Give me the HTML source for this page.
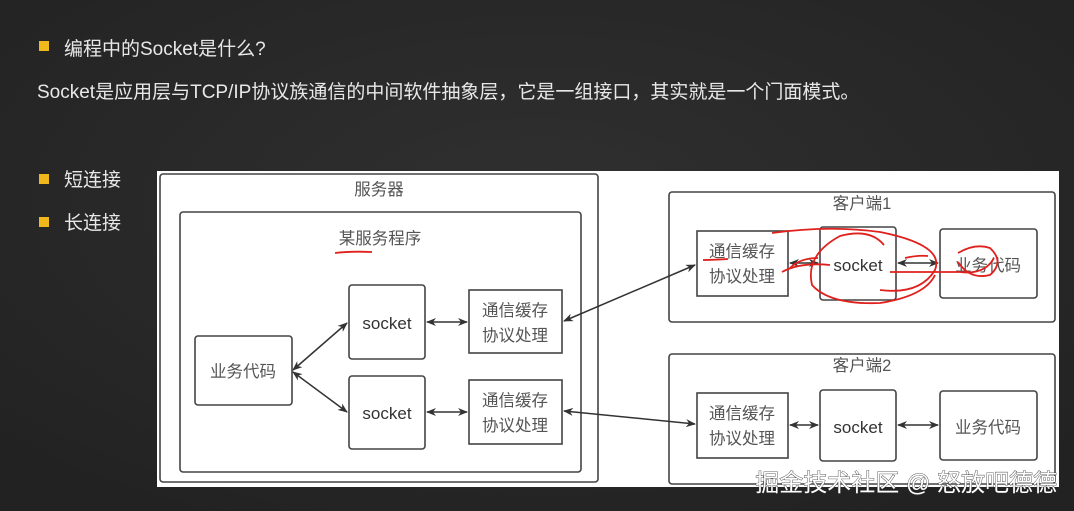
<!DOCTYPE html>
<html><head><meta charset="utf-8"><style>
html,body{margin:0;padding:0;width:1074px;height:511px;overflow:hidden;background:#2a2a2a;}
svg{display:block}
text{font-family:"Liberation Sans","Noto Sans CJK SC",sans-serif;}
</style></head><body>
<svg width="1074" height="511" viewBox="0 0 1074 511" xmlns="http://www.w3.org/2000/svg">
<defs>
<marker id="a" markerWidth="10" markerHeight="8" refX="9" refY="4" orient="auto-start-reverse" markerUnits="userSpaceOnUse"><path d="M0,0 L10,4 L0,8 L3,4 z" fill="#333"/></marker>
<radialGradient id="bg" cx="50%" cy="40%" r="70%"><stop offset="0" stop-color="#303030"/><stop offset="1" stop-color="#222"/></radialGradient>
</defs>
<rect width="1074" height="511" fill="url(#bg)"/>
<rect x="39" y="41" width="10" height="10" fill="#f0b81c"/>
<text x="64" y="55" font-size="19" fill="#e8e8e8">编程中的Socket是什么?</text>
<text x="37" y="98" font-size="19" fill="#e8e8e8">Socket是应用层与TCP/IP协议族通信的中间软件抽象层，它是一组接口，其实就是一个门面模式。</text>
<rect x="39" y="174" width="10" height="10" fill="#f0b81c"/>
<text x="64" y="186" font-size="19" fill="#e8e8e8">短连接</text>
<rect x="39" y="217" width="10" height="10" fill="#f0b81c"/>
<text x="64" y="229" font-size="19" fill="#e8e8e8">长连接</text>

<rect x="157" y="171" width="902" height="316" fill="#fff"/>
<g fill="none" stroke="#444" stroke-width="1.6">
<rect x="160" y="174" width="438" height="308" rx="3"/>
<rect x="180" y="212" width="401" height="260" rx="3"/>
<rect x="195" y="336" width="97" height="69" rx="3"/>
<rect x="349" y="285" width="76" height="74" rx="3"/>
<rect x="349" y="376" width="76" height="73" rx="3"/>
<rect x="469" y="290" width="93" height="63"/>
<rect x="469" y="380" width="93" height="64"/>
<rect x="669" y="192" width="386" height="130" rx="3"/>
<rect x="697" y="231" width="91" height="65"/>
<rect x="820" y="227" width="76" height="73" rx="3"/>
<rect x="940" y="229" width="97" height="69" rx="3"/>
<rect x="669" y="354" width="386" height="130" rx="3"/>
<rect x="697" y="393" width="91" height="65"/>
<rect x="820" y="390" width="76" height="71" rx="3"/>
<rect x="940" y="391" width="97" height="69" rx="3"/>
</g>
<g stroke="#333" stroke-width="1.5" marker-start="url(#a)" marker-end="url(#a)">
<line x1="293" y1="370" x2="347" y2="323"/>
<line x1="293" y1="372" x2="347" y2="412"/>
<line x1="427" y1="322" x2="467" y2="322"/>
<line x1="427" y1="412" x2="467" y2="412"/>
<line x1="564" y1="321" x2="695" y2="265"/>
<line x1="564" y1="411" x2="695" y2="424"/>
<line x1="790" y1="263" x2="818" y2="263"/>
<line x1="898" y1="263" x2="938" y2="263"/>
<line x1="790" y1="425" x2="818" y2="425"/>
<line x1="898" y1="425" x2="938" y2="425"/>
</g>
<g font-size="16.5" fill="#555" text-anchor="middle">
<text x="379" y="195">服务器</text>
<text x="380" y="244">某服务程序</text>
<text x="243" y="377">业务代码</text>
<text x="387" y="329" font-size="17" fill="#333">socket</text>
<text x="387" y="419" font-size="17" fill="#333">socket</text>
<text x="515" y="316">通信缓存</text><text x="515" y="341">协议处理</text>
<text x="515" y="406">通信缓存</text><text x="515" y="431">协议处理</text>
<text x="862" y="209">客户端1</text>
<text x="742" y="257">通信缓存</text><text x="742" y="282">协议处理</text>
<text x="858" y="271" font-size="17" fill="#333">socket</text>
<text x="988" y="271">业务代码</text>
<text x="862" y="371">客户端2</text>
<text x="742" y="419">通信缓存</text><text x="742" y="444">协议处理</text>
<text x="858" y="433" font-size="17" fill="#333">socket</text>
<text x="988" y="433">业务代码</text>
</g>
<g fill="none" stroke="#e0201c" stroke-width="1.8">
<path d="M335 253 Q350 251 372 252"/>
<path d="M703 260 Q712 260 728 259"/>
<path d="M772 233 Q830 225 880 232 Q945 245 935 270 Q920 295 880 290"/>
<path d="M884 245 Q870 228 840 236 Q805 255 812 285 Q830 305 880 303 Q925 296 935 275"/>
<path d="M782 272 Q800 262 830 265"/>
<path d="M790 268 Q800 258 818 258"/>
<path d="M890 272 L960 272 Q985 275 994 258"/>
<path d="M905 258 Q918 255 928 256"/>
<path d="M958 253 Q975 243 990 248 Q1005 262 990 275 Q970 280 958 262"/>
</g>
<text x="1057" y="491" font-size="24" text-anchor="end" fill="#fff" stroke="#333" stroke-width="0.8" paint-order="stroke">掘金技术社区 @ 怒放吧德德</text>
</svg>
</body></html>
